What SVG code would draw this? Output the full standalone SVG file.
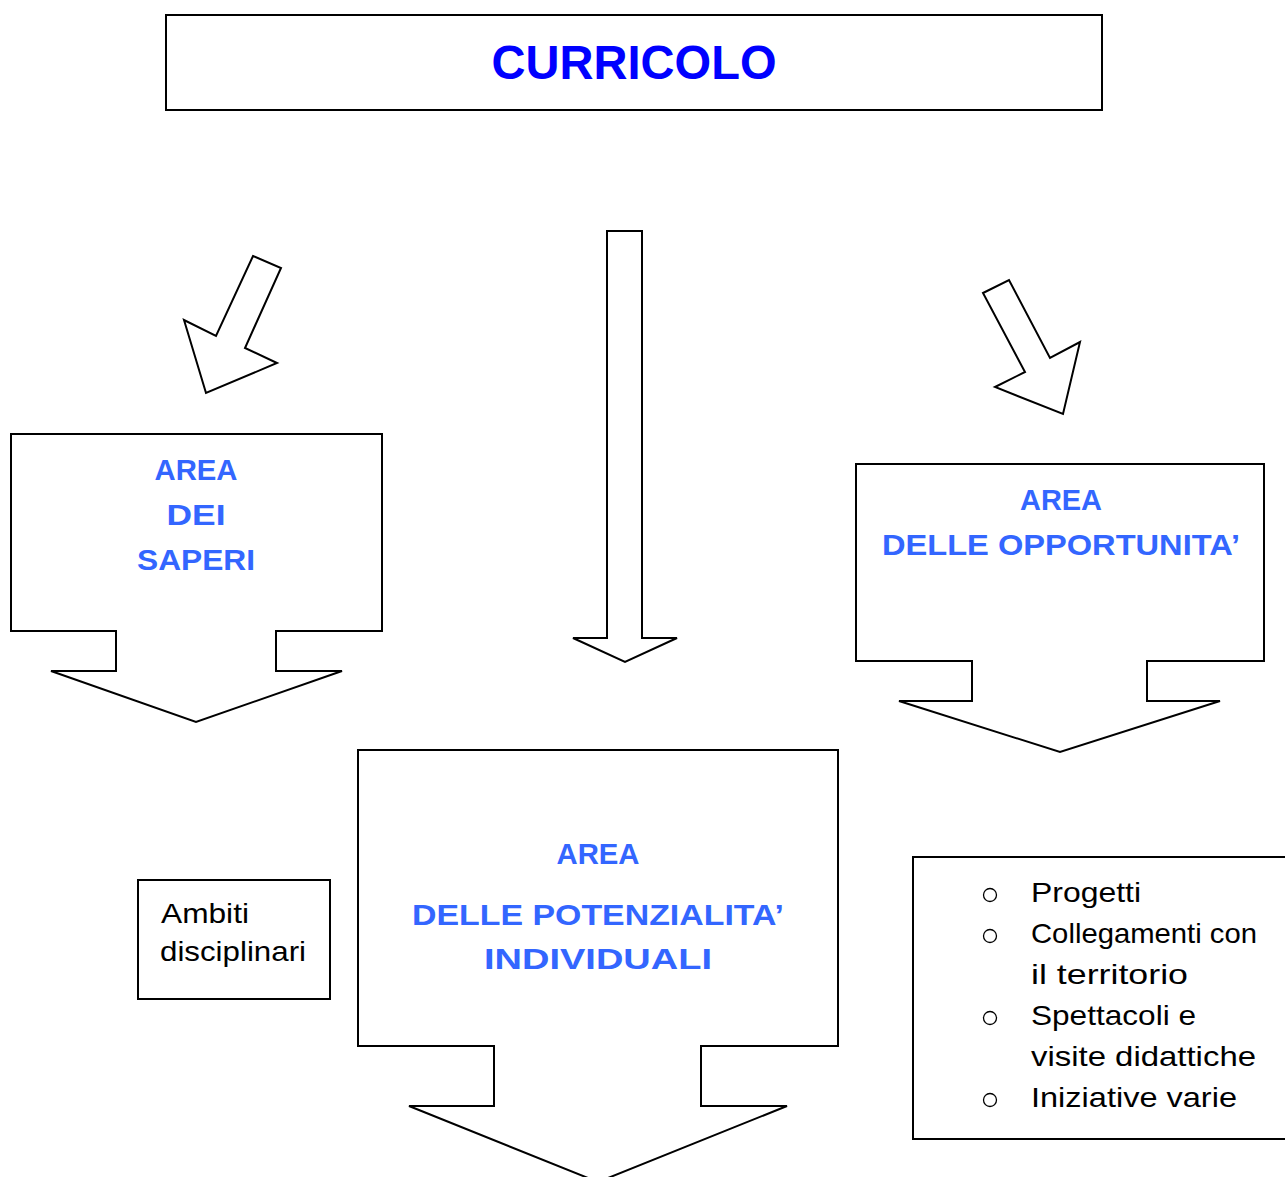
<svg xmlns="http://www.w3.org/2000/svg" width="1285" height="1177" viewBox="0 0 1285 1177">
<style>
.shape{fill:#ffffff;stroke:#000000;stroke-width:2;stroke-linejoin:miter}
.title{font-family:"Liberation Sans",Arial,sans-serif;font-weight:bold;font-size:48px;fill:#0000ff;text-anchor:middle}
.area{font-family:"Liberation Sans",Arial,sans-serif;font-weight:bold;font-size:30px;fill:#3366ff;text-anchor:middle}
.plain{font-family:"Liberation Sans",Arial,sans-serif;font-size:28px;fill:#000000}
.bullet{fill:none;stroke:#000000;stroke-width:1.3}
</style>
<rect width="1285" height="1177" fill="#ffffff"/>

<g id="title">
<rect class="shape" x="166" y="15" width="936" height="95"/>
<text class="title" x="634" y="79" textLength="285" lengthAdjust="spacingAndGlyphs">CURRICOLO</text>
</g>

<g id="connectors">
<polygon class="shape" points="253,256 281,268 245,348 277,363 206,393 184,320 216,336"/>
<polygon class="shape" points="607,231 642,231 642,638 677,638 625,662 573,638 607,638"/>
<polygon class="shape" points="983,293 1009,280 1050,358 1080,342 1063,414 995,387 1025,372"/>
</g>

<g id="area-saperi">
<polygon class="shape" points="11,434 382,434 382,631 276,631 276,671 342,671 196,722 51,671 116,671 116,631 11,631"/>
<text class="area" x="196" y="480" textLength="83" lengthAdjust="spacingAndGlyphs">AREA</text>
<text class="area" x="196" y="525" textLength="59" lengthAdjust="spacingAndGlyphs">DEI</text>
<text class="area" x="196" y="570" textLength="118" lengthAdjust="spacingAndGlyphs">SAPERI</text>
</g>

<g id="area-opportunita">
<polygon class="shape" points="856,464 1264,464 1264,661 1147,661 1147,701 1220,701 1060,752 899,701 972,701 972,661 856,661"/>
<text class="area" x="1061" y="510" textLength="82" lengthAdjust="spacingAndGlyphs">AREA</text>
<text class="area" x="1061" y="555" textLength="358" lengthAdjust="spacingAndGlyphs">DELLE OPPORTUNITA’</text>
</g>

<g id="area-potenzialita">
<polygon class="shape" points="358,750 838,750 838,1046 701,1046 701,1106 787,1106 598,1182 409,1106 494,1106 494,1046 358,1046"/>
<text class="area" x="598" y="864" textLength="83" lengthAdjust="spacingAndGlyphs">AREA</text>
<text class="area" x="598" y="925" textLength="372" lengthAdjust="spacingAndGlyphs">DELLE POTENZIALITA’</text>
<text class="area" x="598" y="969" textLength="228" lengthAdjust="spacingAndGlyphs">INDIVIDUALI</text>
</g>

<g id="ambiti">
<rect class="shape" x="138" y="880" width="192" height="119"/>
<text class="plain" x="161" y="923" textLength="88" lengthAdjust="spacingAndGlyphs">Ambiti</text>
<text class="plain" x="160" y="961" textLength="146" lengthAdjust="spacingAndGlyphs">disciplinari</text>
</g>

<g id="opportunita-list">
<rect class="shape" x="913" y="857" width="380" height="282"/>
<circle class="bullet" cx="990" cy="895" r="6.5"/>
<circle class="bullet" cx="990" cy="936" r="6.5"/>
<circle class="bullet" cx="990" cy="1018" r="6.5"/>
<circle class="bullet" cx="990" cy="1100" r="6.5"/>
<text class="plain" x="1031" y="902" textLength="110" lengthAdjust="spacingAndGlyphs">Progetti</text>
<text class="plain" x="1031" y="943" textLength="226" lengthAdjust="spacingAndGlyphs">Collegamenti con</text>
<text class="plain" x="1031" y="984" textLength="157" lengthAdjust="spacingAndGlyphs">il territorio</text>
<text class="plain" x="1031" y="1025" textLength="165" lengthAdjust="spacingAndGlyphs">Spettacoli e</text>
<text class="plain" x="1031" y="1066" textLength="225" lengthAdjust="spacingAndGlyphs">visite didattiche</text>
<text class="plain" x="1031" y="1107" textLength="206" lengthAdjust="spacingAndGlyphs">Iniziative varie</text>
</g>
</svg>
